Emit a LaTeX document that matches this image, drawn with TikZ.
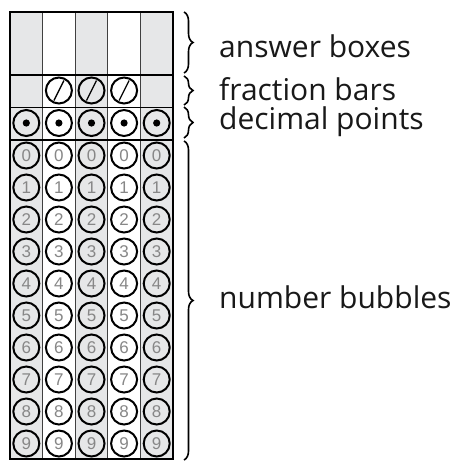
\documentclass[tikz,border=0pt]{standalone}
\usepackage{fontspec}
\setmainfont{Open Sans}
\newfontfamily\digitfont{Liberation Sans}
\usetikzlibrary{decorations.pathreplacing}
\definecolor{boxgray}{RGB}{230,231,232}
\definecolor{digitgray}{RGB}{135,135,135}
\begin{document}
\begin{tikzpicture}[x=1pt,y=-1pt,
  bubble/.style={circle,draw,line width=2pt,minimum size=26pt,inner sep=0pt,
    font=\digitfont\fontsize{17}{17}\selectfont,text=digitgray},
  divider/.style={line width=0.9pt,black!75},
  thickrule/.style={line width=2.6pt},
  thinrule/.style={line width=1pt},
  bracestyle/.style={decorate,decoration={brace,amplitude=9pt},line width=1.6pt},
  label/.style={anchor=base west,inner sep=0pt,font=\fontsize{30}{30}\selectfont,text=black!90}]
\fill[white] (0,0) rectangle (462,461);
\useasboundingbox (0,0) rectangle (462,461);
% shaded columns
\foreach \i in {0,2,4}{
  \fill[boxgray] (10+32.6*\i,12) rectangle (10+32.6*\i+32.6,459);
}
% column dividers
\foreach \i in {1,2,3,4}{
  \draw[divider] (10+32.6*\i,12) -- (10+32.6*\i,459);
}
% horizontal rules
\draw[thickrule] (10,75) -- (173,75);
\draw[thinrule] (10,107) -- (173,107);
\draw[thickrule] (10,140) -- (173,140);
\draw[thickrule] (10,12) rectangle (173,459);
% fraction bubbles
\foreach \c in {2,3,4}{
  \node[bubble] (f\c) at (26.3+32.6*\c-32.6,90.5) {};
  \draw[line width=1.3pt] (f\c.center) ++(-5,10) -- ++(10,-20);
}
% decimal bubbles
\foreach \c in {1,...,5}{
  \node[bubble] (d\c) at (26.3+32.6*\c-32.6,123) {};
  \fill (d\c.center) circle[radius=3.6pt];
}
% number bubbles
\foreach \c in {1,...,5}{
  \foreach \r in {0,...,9}{
    \node[bubble] (b\c-\r) at (26.3+32.6*\c-32.6,155.5+32*\r) {\r};
  }
}
% braces
\coordinate (a1) at (184,12);
\coordinate (a2) at (184,73);
\coordinate (c1) at (184,76);
\coordinate (c2) at (184,105);
\coordinate (e1) at (184,107);
\coordinate (e2) at (184,138);
\coordinate (g1) at (184,141);
\coordinate (g2) at (184,460);
\draw[bracestyle] (a1) -- (a2);
\draw[bracestyle] (c1) -- (c2);
\draw[bracestyle] (e1) -- (e2);
\draw[bracestyle] (g1) -- (g2);
% labels
\node[label] (l1) at (219,57) {answer boxes};
\node[label] (l2) at (219,100) {fraction bars};
\node[label] (l3) at (219,129) {decimal points};
\node[label] (l4) at (219,308) {number bubbles};
\end{tikzpicture}
\end{document}
